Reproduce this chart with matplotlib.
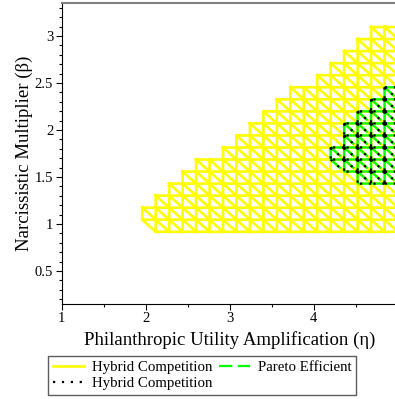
import numpy as np
import matplotlib
matplotlib.use('Agg')
import matplotlib.pyplot as plt
import matplotlib.tri as mtri
from matplotlib.ticker import MultipleLocator, FixedLocator, FormatStrFormatter

# malla de muestreo (26 x 26 puntos)
eta_grid = np.linspace(1, 5, 26)
beta_grid = np.linspace(0.15, 3.35, 26)

# region "Hybrid Competition": columna, fila inicial, fila final (exclusiva)
hybrid_cols = list(range(6, 25))
hybrid_bottom = [6] * 19
hybrid_top = [8, 9, 10, 11, 12, 12, 13, 14, 15, 16, 17, 18, 18, 19, 20, 21, 22, 23, 23]
hybrid_cut = [(6, 6)]  # celdas con solo el triangulo superior

# region "Pareto Efficient"
pareto_cols = [20, 21, 22, 23, 24]
pareto_bottom = [11, 11, 10, 10, 10]
pareto_top = [13, 15, 16, 17, 18]
pareto_cut = [(20, 11)]

x_ticks = [1, 2, 3, 4]
labels = ['Hybrid Competition', 'Hybrid Competition', 'Pareto Efficient']

serif = 'Liberation Serif'


def malla(cols, bottoms, tops, cortes):
    X, Y = np.meshgrid(eta_grid, beta_grid)
    n = len(eta_grid)
    tris = []
    for c, b, t in zip(cols, bottoms, tops):
        for r in range(b, t):
            bl, br = r * n + c, r * n + c + 1
            tl, tr = (r + 1) * n + c, (r + 1) * n + c + 1
            if (c, r) not in cortes:
                tris.append([bl, br, tl])
            tris.append([br, tr, tl])
    return mtri.Triangulation(X.ravel(), Y.ravel(), tris)


fig = plt.figure(figsize=(3.95, 3.99), dpi=100)
ax = fig.add_axes([61.5 / 395, 1 - 304 / 399, (398 - 61.5) / 395, 301 / 399])

tri_h = malla(hybrid_cols, hybrid_bottom, hybrid_top, hybrid_cut)
tri_p = malla(pareto_cols, pareto_bottom, pareto_top, pareto_cut)

h_y = ax.triplot(tri_h, color='#ffff00', lw=1.9)[0]
h_g = ax.triplot(tri_p, color='#00ff00', lw=1.6, dashes=(6, 2.5))[0]
h_k = ax.triplot(tri_p, color='black', lw=1.6, dashes=(1, 3))[0]

ax.set_xlim(1, 5)
ax.set_ylim(0.15, 3.35)
ax.xaxis.set_major_locator(FixedLocator(x_ticks))
ax.xaxis.set_minor_locator(MultipleLocator(0.5))
ax.yaxis.set_major_locator(MultipleLocator(0.5))
ax.yaxis.set_minor_locator(MultipleLocator(0.1))
ax.xaxis.set_major_formatter(FormatStrFormatter('%g'))
ax.yaxis.set_major_formatter(FormatStrFormatter('%g'))
ax.tick_params(which='major', direction='out', length=4, width=0.8, labelsize=10.5, pad=2)
ax.tick_params(which='minor', direction='out', length=2.5, width=0.8)
for lab in ax.get_xticklabels() + ax.get_yticklabels():
    lab.set_family(serif)

ax.spines['right'].set_visible(False)
ax.spines['top'].set_color('#808080')
ax.spines['top'].set_linewidth(1.5)
ax.spines['left'].set_linewidth(0.8)
ax.spines['bottom'].set_linewidth(0.8)

ax.set_xlabel('Philanthropic Utility Amplification (η)', family=serif, fontsize=13.5, labelpad=4)
ax.set_ylabel('Narcissistic Multiplier (β)', family=serif, fontsize=13.5, labelpad=1)

leg = fig.legend([h_y, h_k, h_g], labels, ncol=2, loc='upper center',
                 bbox_to_anchor=(0.512, 1 - 356 / 399), frameon=True, fancybox=False,
                 edgecolor='#333333', prop={'family': serif, 'size': 10.7},
                 handlelength=2.1, handletextpad=0.55, columnspacing=0.45,
                 borderpad=0.3, labelspacing=0.2, borderaxespad=0)
leg.get_frame().set_linewidth(1.0)

fig.savefig('out.png', dpi=100)
